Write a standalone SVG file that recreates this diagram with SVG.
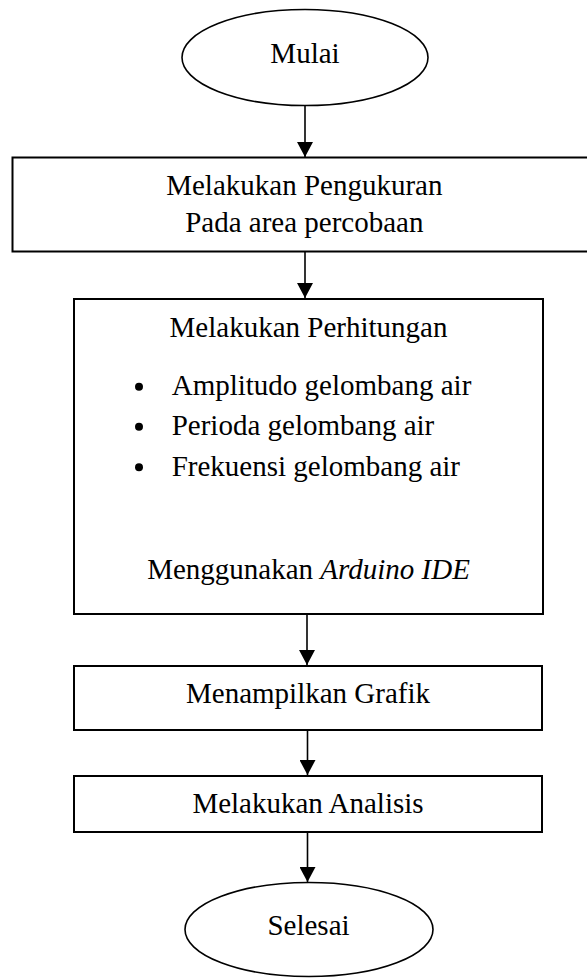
<svg xmlns="http://www.w3.org/2000/svg" width="587" height="978" viewBox="0 0 587 978">
  <style>
    .box { fill: #ffffff; stroke: #000000; stroke-width: 2; }
    .term { fill: #ffffff; stroke: #000000; stroke-width: 1.6; }
    .lbl { font-family: "Liberation Serif", "Times New Roman", serif; font-size: 29px; fill: #000000; }
    .mid { text-anchor: middle; }
    .conn { stroke: #000000; stroke-width: 1.6; fill: none; marker-end: url(#arrow); }
  </style>
  <defs>
    <marker id="arrow" viewBox="0 0 15 16" refX="15" refY="8" markerWidth="15" markerHeight="16" markerUnits="userSpaceOnUse" orient="auto">
      <path d="M0,0 L15,8 L0,16 z" fill="#000000"/>
    </marker>
  </defs>
  <rect width="587" height="978" fill="#ffffff"/>

  <g id="connectors">
    <line class="conn" x1="305" y1="106" x2="305" y2="157"/>
    <line class="conn" x1="305" y1="252" x2="305" y2="298"/>
    <line class="conn" x1="307" y1="614" x2="307" y2="665"/>
    <line class="conn" x1="307.5" y1="730" x2="307.5" y2="775"/>
    <line class="conn" x1="307.5" y1="832" x2="307.5" y2="882"/>
  </g>

  <g id="mulai">
    <ellipse class="term" cx="305" cy="57.5" rx="123" ry="48"/>
    <text class="lbl mid" x="305" y="62.7">Mulai</text>
  </g>

  <g id="pengukuran">
    <rect class="box" x="12.5" y="157.5" width="590" height="94"/>
    <text class="lbl mid" x="304.3" y="195">Melakukan Pengukuran</text>
    <text class="lbl mid" x="304.3" y="231.7">Pada area percobaan</text>
  </g>

  <g id="perhitungan">
    <rect class="box" x="74" y="299" width="469" height="315"/>
    <text class="lbl mid" x="308.5" y="337.3">Melakukan Perhitungan</text>
    <circle cx="139" cy="386.7" r="4"/>
    <text class="lbl" x="171.7" y="395">Amplitudo gelombang air</text>
    <circle cx="139" cy="426.7" r="4"/>
    <text class="lbl" x="171.7" y="435">Perioda gelombang air</text>
    <circle cx="139" cy="467.3" r="4"/>
    <text class="lbl" x="171.7" y="475.7">Frekuensi gelombang air</text>
    <text class="lbl mid" x="308.5" y="579">Menggunakan <tspan font-style="italic">Arduino IDE</tspan></text>
  </g>

  <g id="grafik">
    <rect class="box" x="74" y="666" width="468" height="64"/>
    <text class="lbl mid" x="308" y="703">Menampilkan Grafik</text>
  </g>

  <g id="analisis">
    <rect class="box" x="74" y="776" width="468" height="56"/>
    <text class="lbl mid" x="308" y="813">Melakukan Analisis</text>
  </g>

  <g id="selesai">
    <ellipse class="term" cx="309" cy="929.5" rx="124" ry="47"/>
    <text class="lbl mid" x="308.5" y="935">Selesai</text>
  </g>
</svg>
